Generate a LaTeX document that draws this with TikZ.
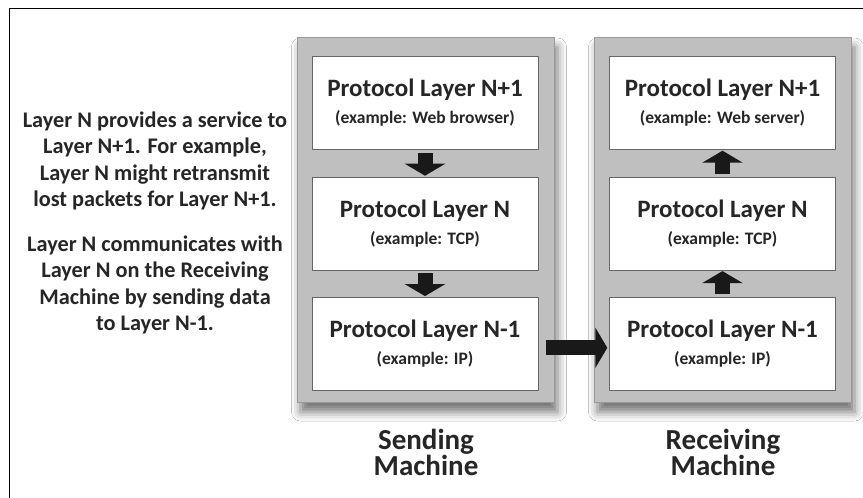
\documentclass[tikz,border=0pt]{standalone}
\usepackage{fontspec}
\setmainfont{Carlito}
\usetikzlibrary{positioning,arrows.meta,shadows.blur}
\newcommand{\examplefont}{\bfseries\fontsize{17.5}{19}\selectfont}

\begin{document}
\begin{tikzpicture}[x=1pt, y=-1pt, font=\bfseries, line join=round,
		panel/.style={draw=black!40, fill=black!25, minimum width=257pt, minimum height=365pt,
			blur shadow={shadow xshift=3pt, shadow yshift=-10pt, shadow blur radius=9pt, shadow opacity=55}},
		layerbox/.style={draw=black!60, fill=white, minimum width=226pt, minimum height=93pt,
			align=center, text=black!85, font=\bfseries\fontsize{25}{27}\selectfont},
		machine/.style={align=center, text=black!85, font=\bfseries\fontsize{29}{25}\selectfont},
		blockarrow/.style={line width=15pt, black!90, -{Triangle[length=12pt, width=40pt]}}]
	\useasboundingbox (0,0) rectangle (863,498);
	\fill[white] (0,0) rectangle (863,498);
	\draw[line width=1pt] (9,510) -- (9,8) -- (875,8);
	% the two machines
	\node[panel] (send) at (426,219.5) {};
	\node[panel] (recv) at (723,219.5) {};
	\node[layerbox] (s1) at (425,103) {Protocol Layer N+1\\{\examplefont (example: Web browser)}};
	\node[layerbox, below=27pt of s1] (s2) {Protocol Layer N\\{\examplefont (example: TCP)}};
	\node[layerbox, below=27pt of s2] (s3) {Protocol Layer N-1\\{\examplefont (example: IP)}};
	\node[layerbox] (r1) at (722.5,103) {Protocol Layer N+1\\{\examplefont (example: Web server)}};
	\node[layerbox, below=27pt of r1] (r2) {Protocol Layer N\\{\examplefont (example: TCP)}};
	\node[layerbox, below=27pt of r2] (r3) {Protocol Layer N-1\\{\examplefont (example: IP)}};
	\node[machine, below=23pt of send] (sendlbl) {Sending\\Machine};
	\node[machine, below=23pt of recv] (recvlbl) {Receiving\\Machine};
	% explanation
	\node[align=center, text=black!85, font=\bfseries\fontsize{22.3}{26.5}\selectfont] (note) at (155,223)
		{Layer N provides a service to\\Layer N+1. For example,\\Layer N might retransmit\\lost packets for Layer N+1.\\[18pt]
		Layer N communicates with\\Layer N on the Receiving\\Machine by sending data\\to Layer N-1.};
	% data flow
	\draw[blockarrow, shorten <=3pt, shorten >=1pt] (s1.south) -- (s2.north);
	\draw[blockarrow, shorten <=3pt, shorten >=1pt] (s2.south) -- (s3.north);
	\draw[blockarrow, shorten <=3pt, shorten >=1pt] (r3.north) -- (r2.south);
	\draw[blockarrow, shorten <=3pt, shorten >=1pt] (r2.north) -- (r1.south);
	\draw[blockarrow, shorten <=8pt, shorten >=2pt] ([yshift=-4pt]s3.east) -- ([yshift=-4pt]r3.west);
\end{tikzpicture}
\end{document}
